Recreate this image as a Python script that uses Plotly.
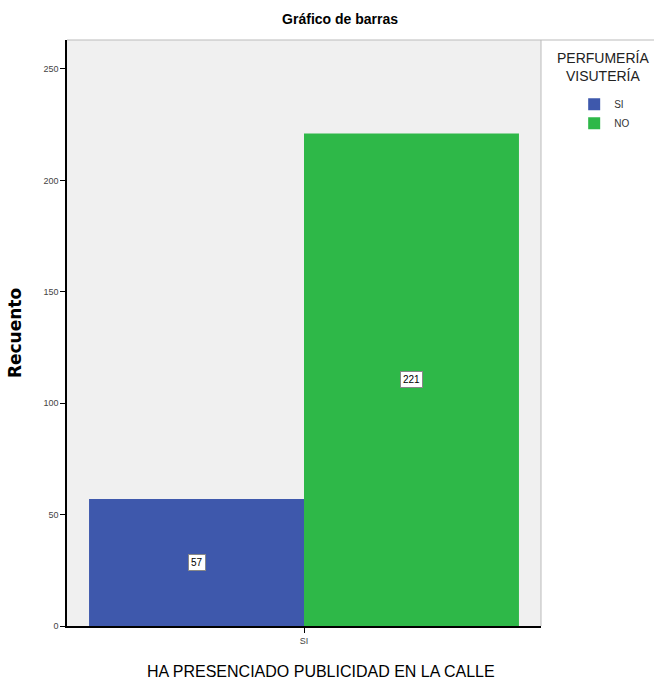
import plotly.graph_objects as go

# Counts of people who saw street advertising, split by perfume/costume-jewellery answer
categories = ["SI"]
series_names = ["SI", "NO"]
series_values = [[57], [221]]
series_colors = ["#3E58AC", "#2EB848"]
y_ticks = [0, 50, 100, 150, 200, 250]

bar_gap = 0.093
font_family = "Liberation Sans, Arial, sans-serif"

fig = go.Figure()
for name, vals, col in zip(series_names, series_values, series_colors):
    fig.add_trace(go.Bar(
        x=categories, y=vals, name=name,
        marker=dict(color=col, line=dict(width=0)),
    ))

# White boxed value labels centred on each bar
n = len(series_names)
bar_w = (1 - bar_gap) / n
for i, vals in enumerate(series_values):
    offset = -(1 - bar_gap) / 2 + bar_w * (i + 0.5)
    for j, v in enumerate(vals):
        fig.add_annotation(
            x=j + offset, y=v / 2, xref="x", yref="y",
            text=str(v), showarrow=False,
            font=dict(family=font_family, size=10, color="black"),
            bgcolor="white", bordercolor="#888888", borderwidth=1, borderpad=2,
        )

# Legend title
fig.add_annotation(
    x=1.13, y=1.0, xref="paper", yref="paper", xanchor="center", yanchor="top",
    yshift=-8,
    text="PERFUMERÍA<br>VISUTERÍA", showarrow=False,
    font=dict(family=font_family, size=14, color="#222222"),
)

# Category axis title, centred on the page
fig.add_annotation(
    x=0.535, y=0, xref="paper", yref="paper", xanchor="center", yanchor="middle",
    yshift=-45,
    text="HA PRESENCIADO PUBLICIDAD EN LA CALLE", showarrow=False,
    font=dict(family=font_family, size=16, color="black"),
)

fig.update_layout(
    width=654, height=692,
    margin=dict(l=67, r=113, t=40, b=66, autoexpand=False),
    paper_bgcolor="white",
    plot_bgcolor="#F0F0F0",
    barmode="group", bargap=bar_gap, bargroupgap=0,
    title=dict(text="<b>Gráfico de barras</b>", x=0.52, xanchor="center",
               y=0.973, yanchor="middle",
               font=dict(family=font_family, size=14, color="black")),
    showlegend=True,
    legend=dict(x=1.07, xanchor="left", y=0.915, yanchor="top",
                font=dict(family=font_family, size=10, color="#333333"),
                bgcolor="rgba(0,0,0,0)", itemwidth=30, tracegroupgap=0),
    xaxis=dict(
        type="category", range=[-0.5, 0.5],
        showline=True, linecolor="black", linewidth=1.5,
        ticks="outside", ticklen=5, tickcolor="black",
        tickfont=dict(family=font_family, size=9, color="#444444"),
        showgrid=False, zeroline=False,
    ),
    yaxis=dict(
        range=[0, 263],
        tickvals=y_ticks, ticktext=[str(t) for t in y_ticks],
        showline=True, linecolor="black", linewidth=1.5,
        ticks="outside", ticklen=5, tickcolor="black",
        tickfont=dict(family=font_family, size=9, color="#444444"),
        title=dict(text="<b>Recuento</b>",
                   font=dict(family="DejaVu Sans, sans-serif", size=17, color="black"),
                   standoff=17),
        showgrid=False, zeroline=False,
    ),
)

# Light frame along the top and right of the plot area
fig.add_shape(type="line", xref="paper", yref="paper", x0=0, x1=1.24, y0=1, y1=1,
              line=dict(color="#BBBBBB", width=1))
fig.add_shape(type="line", xref="paper", yref="paper", x0=1, x1=1, y0=0, y1=1,
              line=dict(color="#BBBBBB", width=1))

fig.write_html("out.html")
